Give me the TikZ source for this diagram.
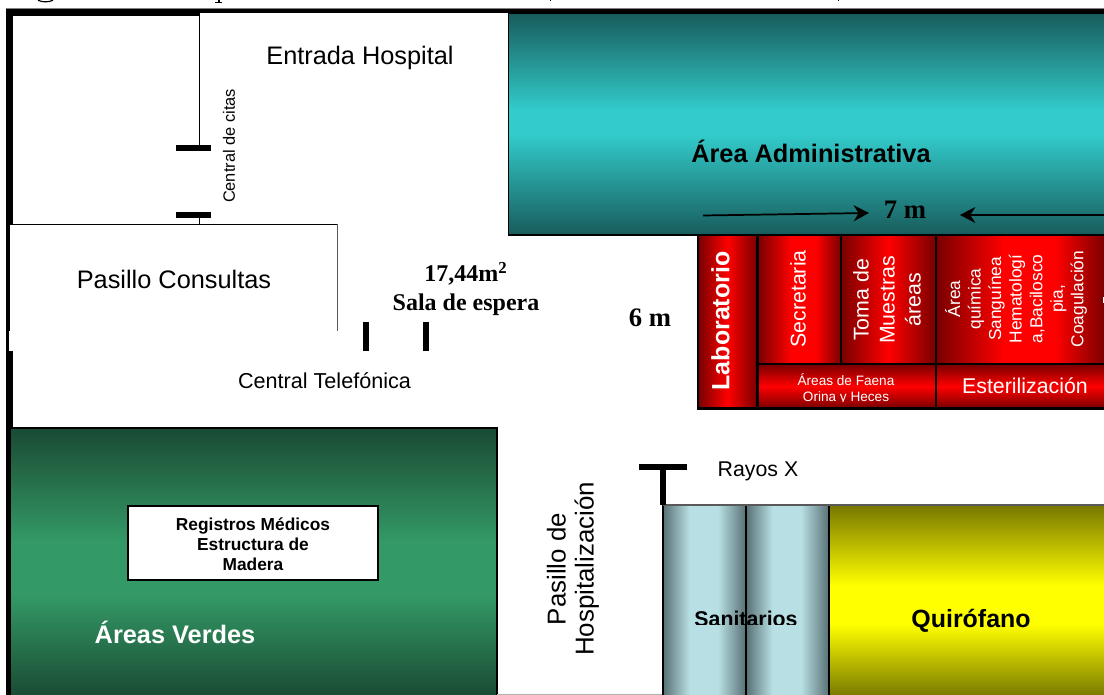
\documentclass[tikz,border=0pt]{standalone}
\usepackage{fontspec}
\setmainfont{Liberation Sans}
\newfontfamily\tnr{Liberation Serif}
\usetikzlibrary{arrows.meta}
\definecolor{tealD}{HTML}{185C5C}
\definecolor{tealM}{HTML}{33CCCC}
\definecolor{redD}{HTML}{780000}
\definecolor{redM}{HTML}{FF0000}
\definecolor{greenD}{HTML}{1A4A33}
\definecolor{greenM}{HTML}{339966}
\definecolor{yelD}{HTML}{777700}
\definecolor{yelM}{HTML}{FFFF00}
\definecolor{sanD}{HTML}{587074}
\definecolor{sanM}{HTML}{B8E0E4}
\pgfdeclarehorizontalshading{sanshade}{100bp}{color(0bp)=(sanD); color(25bp)=(sanD); color(41bp)=(sanM); color(58bp)=(sanM); color(75bp)=(sanD); color(100bp)=(sanD)}
\pgfdeclarehorizontalshading{redplat}{100bp}{color(0bp)=(redD); color(25bp)=(redD); color(45bp)=(redM); color(60bp)=(redM); color(75bp)=(redD); color(100bp)=(redD)}
\pgfdeclareverticalshading{tealplat}{100bp}{color(0bp)=(tealD); color(25bp)=(tealD); color(48bp)=(tealM); color(53bp)=(tealM); color(75bp)=(tealD); color(100bp)=(tealD)}
\pgfdeclareverticalshading{yelplat}{100bp}{color(0bp)=(yelD); color(25bp)=(yelD); color(44bp)=(yelM); color(54bp)=(yelM); color(75bp)=(yelD); color(100bp)=(yelD)}
\pgfdeclareverticalshading{greenplat}{100bp}{color(0bp)=(greenD); color(25bp)=(greenD); color(44bp)=(greenM); color(54bp)=(greenM); color(75bp)=(greenD); color(100bp)=(greenD)}
\tikzset{
  sans/.style 2 args={font=\fontsize{#1}{#2}\selectfont, inner sep=0pt, align=center},
  bsans/.style 2 args={font=\fontsize{#1}{#2}\selectfont\bfseries, inner sep=0pt, align=center},
  serif/.style={font=\fontsize{#1}{21}\selectfont\tnr\bfseries, inner sep=0pt, align=center},
  redv/.style={shading=redplat, draw=black, line width=1.6pt},
  redc/.style={left color=redD, right color=redD, middle color=redM, draw=black, line width=1.6pt},
  redh/.style={top color=redD, bottom color=redD, middle color=redM, draw=black, line width=1.6pt},
  wall/.style={line width=1.2pt, black},
  pil/.style={fill=black},
  dimarrow/.style={line width=1.3pt, -{Stealth[length=11.5pt,width=12pt]}},
}
\begin{document}
\begin{tikzpicture}[x=0.75pt,y=-0.75pt]
\useasboundingbox (0,0) rectangle (1104,695);
\fill[white] (0,0) rectangle (1104,695);
% clipped remains of the caption
\draw[line width=0.9pt] (38,0.2) .. controls (42,2.4) and (49,2.4) .. (53,0.2);
\fill (215,2) rectangle (222,3);
\fill (218,0) rectangle (220,2);
\fill (550,0) rectangle (551,1);
\fill (838,0) rectangle (839,1);
% outer walls
\fill[black] (5.5,8.5) rectangle (1104,13.5);
\fill[black] (5.5,8.5) rectangle (13,224);
\fill[black] (13,13) rectangle (199,16.5);
\fill[black] (5.5,224) rectangle (10,331);
\fill[black] (5.5,331) rectangle (9,351);
\fill[black] (5.5,351) rectangle (13,428);
\fill[black] (5.5,428) rectangle (10,695);
\draw[gray,line width=0.6pt] (5.5,8.3) -- (1104,8.3);
% teal block
\shade[shading=tealplat,draw=black,line width=1.4pt] (508.5,13.5) rectangle (1106,235);
% inner walls
\draw[line width=1.4pt] (199.5,13) -- (199.5,148);
\fill[pil] (176,145.5) rectangle (211,151);
\fill[pil] (176,212) rectangle (211,218);
\draw[line width=1.4pt] (199.5,218) -- (199.5,224);
\draw[wall] (10,224.5) -- (338,224.5);
\draw[gray!70!black,line width=0.7pt] (337.5,224.5) -- (337.5,331);
\fill[pil] (363,322) rectangle (369,351);
\fill[pil] (422.5,322) rectangle (429,351);
% laboratory
\shade[redc] (698,235) rectangle (757.5,408.5);
\shade[redv] (757.5,235) rectangle (841,364);
\shade[redc] (841,235) rectangle (936,364);
\shade[redv] (936,235) rectangle (1106,364);
\shade[redh] (757.5,364) rectangle (936,408.5);
\shade[redh] (936,364) rectangle (1106,408.5);
% green block
\shade[shading=greenplat,draw=black,line width=1.2pt] (10,428) rectangle (497,697);
\node[draw=black,fill=white,line width=1.6pt,minimum width=187.5pt,minimum height=55.5pt,inner sep=0pt] (reg) at (253,543) {};
\node[bsans={13}{15}] (regt) at (253,544) {Registros Médicos\\Estructura de\\Madera};
% bottom blocks
\draw[gray!60,line width=0.6pt] (497,694.5) -- (663,694.5);
\shade[shading=sanshade,draw=black,line width=1.4pt] (663,505) rectangle (746,697);
\shade[shading=sanshade,draw=black,line width=1.4pt] (746,505) rectangle (829,697);
\shade[shading=yelplat,draw=black,line width=1.4pt] (829,505) rectangle (1106,697);
\draw[gray!70!black,line width=1pt] (663,505) -- (1104,505);
\fill[pil] (639,464) rectangle (687,470);
\fill[pil] (660,470) rectangle (666,505);
% texts
\node[sans={19}{22}] (entrada) at (360,58) {Entrada Hospital};
\node[sans={12.3}{14},rotate=90] (citas) at (229,146) {Central de citas};
\node[bsans={19}{22}] (admin) at (811,151) {Área Administrativa};
\node[sans={19}{22}] (pasillo) at (174,279) {Pasillo Consultas};
\node[sans={16.2}{19}] (telef) at (324.5,381) {Central Telefónica};
\node[sans={16}{19}] (rayos) at (758,471) {Rayos X};
\node[sans={19.4}{21},rotate=90] (hosp) at (573,569) {Pasillo de\\Hospitalización};
\node[bsans={19}{22},white] (verdes) at (175,632) {Áreas Verdes};
\node[bsans={18.7}{22}] (quir) at (971,621) {Quirófano};
\begin{scope}
\clip (680,600) rectangle (810,624);
\node[bsans={16}{19}] (sanit) at (746,619) {Sanitarios};
\end{scope}
\node[serif=20] (siete) at (905,210) {7 m};
\node[serif=20] (seis) at (650,318) {6 m};
\node[serif=18] (area) at (466,274) {17,44m\textsuperscript{2}};
\node[serif=18] (sala) at (466,305) {Sala de espera};
\coordinate (a1s) at (703,215.5);
\coordinate (a1e) at (869,213);
\coordinate (a2s) at (1104,215);
\coordinate (a2e) at (960,215);
\draw[dimarrow] (a1s) -- (a1e);
\draw[dimarrow] (a2s) -- (a2e);
\node[bsans={18.7}{22},white,rotate=90] (lab) at (720.5,321) {Laboratorio};
\node[sans={16}{19},white,rotate=90] (secr) at (798,299) {Secretaria};
\node[sans={16}{19.5},white,rotate=90] (toma) at (887,300) {Toma de\\Muestras\\áreas};
\node[sans={13}{15.4},white,rotate=90] (quim) at (1016,299) {Área\\química\\Sanguínea\\Hematologí\\a,Bacilosco\\pia,\\Coagulación};
\fill[white] (1102.6,297) rectangle (1104,303);
\begin{scope}
\clip (760,370) rectangle (934,402);
\node[sans={10.2}{12},white] (faena) at (846,389) {Áreas de Faena\\Orina y Heces};
\end{scope}
\node[sans={16}{19},white] (ester) at (1025,386) {Esterilización};
\end{tikzpicture}
\end{document}
